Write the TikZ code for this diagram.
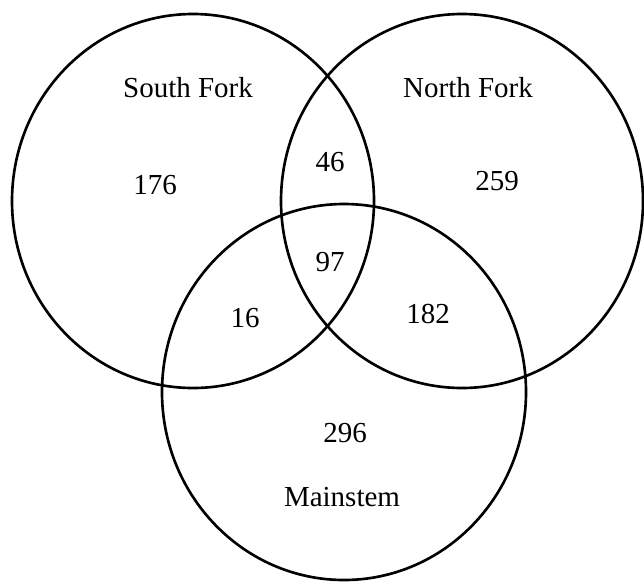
\documentclass[tikz,border=0pt]{standalone}
\usepackage{fontspec}
\setmainfont{Liberation Serif}
\usetikzlibrary{positioning}

\tikzset{
  region/.style={line width=1.5pt},
  lbl/.style={font=\fontsize{16.5}{19}\selectfont,inner sep=0pt}
}

\begin{document}
\begin{tikzpicture}[x=0.02cm,y=-0.02cm]
  \useasboundingbox (0,0) rectangle (644,582);
  % the three forks
  \draw[region] (193,201) ellipse (181 and 187);
  \draw[region] (462,201) ellipse (181 and 187);
  \draw[region] (344,392) ellipse (182 and 188);
  % names
  \node[lbl] (south) at (188,88) {South Fork};
  \node[lbl] (north) at (468,88) {North Fork};
  \node[lbl] (main) at (342,497) {Mainstem};
  % counts
  \node[lbl] (sOnly) at (155,185) {176};
  \node[lbl] (nOnly) at (497,181) {259};
  \node[lbl] (mOnly) at (345,433) {296};
  \node[lbl] (sn) at (330,162) {46};
  \node[lbl] (snm) at (330,262) {97};
  \node[lbl] (sm) at (245,318) {16};
  \node[lbl] (nm) at (428,314) {182};
\end{tikzpicture}
\end{document}
